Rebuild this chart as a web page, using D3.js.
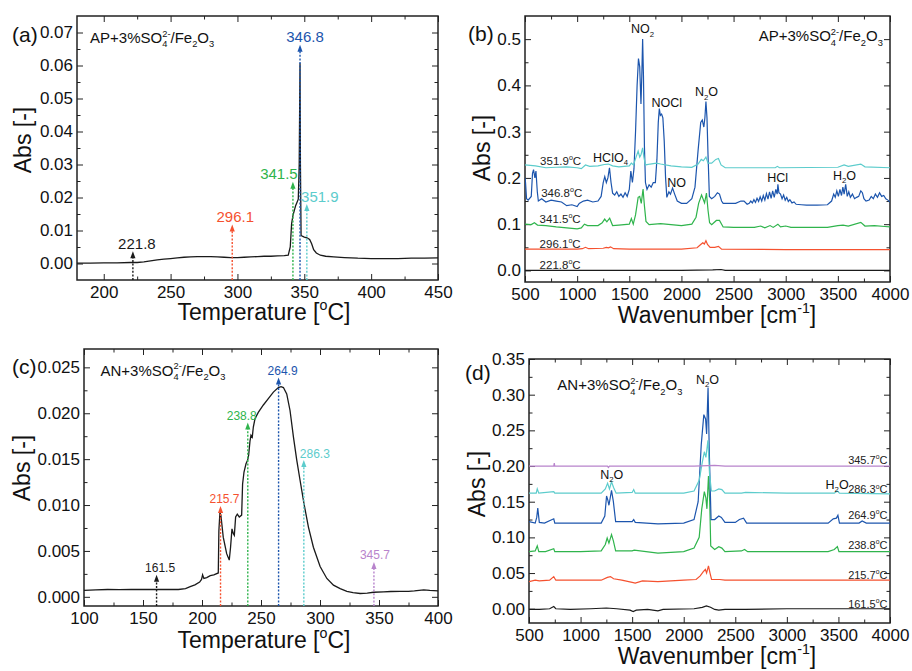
<!DOCTYPE html>
<html>
<head>
<meta charset="utf-8">
<script src="https://cdn.jsdelivr.net/npm/d3@7"></script>
<style>
  body { margin: 0; background: #fff; }
  svg { display: block; }
  text { font-family: Arial, "Liberation Sans", sans-serif; }
</style>
</head>
<body>
<div id="chart"></div>
<script>
// ─── Data ────────────────────────────────────────────────────────────────────

// (a) AP + 3% SO4/Fe2O3 — absorbance vs temperature
const apTemp = [180,190,200,210,220,225,230,235,240,245,250,255,260,265,270,275,280,285,290,295,300,305,310,315,320,325,330,335,338,339.5,340.5,341.5,342.5,343.5,344.5,345.5,346.2,346.8,347.1,347.6,348.5,350,352,354,355.5,357,359,362,366,372,380,390,400,410,420,430,440,450];
const apAbs  = [0.0001,0.0001,0.0002,0.0002,0.0003,0.0003,0.0005,0.0008,0.0011,0.0013,0.0015,0.0017,0.0019,0.002,0.0021,0.0021,0.0021,0.002,0.0019,0.0018,0.0018,0.0019,0.002,0.0021,0.0022,0.0022,0.0023,0.0024,0.0025,0.005,0.012,0.0145,0.016,0.0175,0.0185,0.0195,0.03,0.0607,0.03,0.0085,0.0083,0.008,0.0078,0.0073,0.006,0.0042,0.0032,0.0025,0.0022,0.002,0.0018,0.0016,0.0015,0.0015,0.0015,0.0016,0.0016,0.0017];
const apMarkTemp  = [221.8, 296.1, 341.5, 346.8, 351.9];
const apMarkTip   = [0.0037, 0.0118, 0.0248, 0.0663, 0.018];
const apMarkShift = [4, 3, -14, 5, 13];   // label offset from its line, px

// (c) AN + 3% SO4/Fe2O3
const anTemp = [100,110,120,130,140,150,160,170,180,186,190,194,198,199.6,200.5,201.6,204,207,210,213.8,214.3,215.2,216,218,220.9,223.1,224.2,225.4,226.5,227.4,228.5,229.9,231.6,233.6,234.4,235.6,237.3,238.7,239.5,240.7,241.5,242.6,243.5,244.9,247.7,252,256.2,260.5,264.7,267,269,271.8,274.6,277.5,280.3,283.1,286.5,290.2,294.4,300.1,305.8,311.4,317.1,322.8,328,334,340,345.4,353.9,360,368,375,380,387.9,393,400];
const anAbs  = [0.0007,0.00075,0.0008,0.00078,0.0008,0.0008,0.0008,0.0008,0.0008,0.0009,0.0011,0.0013,0.0016,0.0019,0.0024,0.002,0.0021,0.0023,0.0024,0.0026,0.0072,0.0092,0.0089,0.0065,0.0047,0.004,0.0054,0.0074,0.0069,0.0067,0.0087,0.009,0.0087,0.0089,0.0123,0.0136,0.0145,0.0149,0.0154,0.017,0.0176,0.0174,0.0185,0.0194,0.0201,0.0209,0.0216,0.0223,0.0228,0.0229,0.0228,0.0221,0.0203,0.0174,0.0149,0.0127,0.0101,0.0076,0.0054,0.0033,0.002,0.00127,0.0009,0.0006,0.00045,0.00036,0.0004,0.0005,0.00054,0.00058,0.0006,0.0006,0.00065,0.00076,0.0007,0.00065];
const anMarkTemp  = [161.5, 215.7, 238.8, 264.9, 286.3, 345.7];
const anMarkTip   = [0.0024, 0.0099, 0.019, 0.0239, 0.0149, 0.0038];
const anMarkShift = [3.5, 4, -6, 4, 11, 1];

// (b) AP spectra, [wavenumber, abs]
const apSpec2218 = [[500,0],[1000,0],[1500,0],[2000,0],[2300,0.001],[2380,0.002],[2420,0],[3000,0],[4000,0]];
const apSpec2961 = [[500,0.046],[1000,0.046],[1050,0.047],[1080,0.05],[1110,0.047],[1250,0.048],[1280,0.05],[1300,0.049],[1320,0.051],[1350,0.047],[1500,0.046],[2000,0.046],[2150,0.049],[2185,0.056],[2205,0.06],[2220,0.057],[2235,0.064],[2250,0.056],[2275,0.05],[2320,0.05],[2355,0.052],[2385,0.046],[3000,0.045],[4000,0.045]];
const apSpec3415 = [[500,0.1],[560,0.099],[590,0.103],[620,0.098],[700,0.097],[800,0.094],[900,0.092],[1000,0.09],[1040,0.092],[1070,0.1],[1100,0.097],[1200,0.097],[1240,0.103],[1264,0.111],[1285,0.105],[1312,0.113],[1340,0.097],[1400,0.098],[1500,0.1],[1520,0.112],[1538,0.1],[1560,0.12],[1585,0.158],[1600,0.16],[1615,0.145],[1632,0.176],[1645,0.14],[1660,0.106],[1690,0.099],[1800,0.101],[1900,0.099],[2000,0.097],[2100,0.1],[2140,0.115],[2165,0.145],[2193,0.163],[2222,0.146],[2240,0.167],[2255,0.13],[2270,0.103],[2290,0.099],[2335,0.108],[2365,0.108],[2400,0.094],[2500,0.093],[2700,0.093],[2760,0.096],[2800,0.092],[2850,0.097],[2880,0.093],[2925,0.1],[2950,0.094],[3000,0.096],[3050,0.093],[3400,0.093],[3500,0.097],[3550,0.098],[3600,0.096],[3720,0.104],[3760,0.096],[3850,0.097],[3950,0.095],[4000,0.094]];
const apSpec3468 = [[500,0.2],[505,0.19],[515,0.155],[530,0.152],[560,0.16],[572,0.21],[582,0.218],[595,0.2],[605,0.215],[618,0.17],[628,0.15],[660,0.155],[700,0.148],[750,0.152],[800,0.15],[850,0.148],[900,0.14],[950,0.142],[1000,0.138],[1020,0.145],[1060,0.15],[1100,0.152],[1150,0.148],[1200,0.15],[1230,0.16],[1250,0.19],[1265,0.203],[1280,0.19],[1295,0.2],[1310,0.222],[1325,0.19],[1340,0.167],[1360,0.163],[1380,0.17],[1400,0.16],[1420,0.165],[1440,0.158],[1460,0.168],[1480,0.16],[1500,0.175],[1515,0.215],[1530,0.19],[1545,0.22],[1560,0.3],[1575,0.4],[1588,0.458],[1600,0.44],[1612,0.36],[1620,0.42],[1628,0.5],[1636,0.42],[1645,0.27],[1655,0.19],[1670,0.175],[1690,0.185],[1710,0.18],[1730,0.19],[1750,0.19],[1765,0.24],[1778,0.32],[1788,0.35],[1798,0.335],[1810,0.338],[1822,0.33],[1835,0.28],[1848,0.2],[1860,0.158],[1880,0.17],[1895,0.165],[1915,0.178],[1935,0.165],[1960,0.15],[2000,0.145],[2050,0.145],[2100,0.155],[2130,0.18],[2160,0.26],[2185,0.32],[2200,0.325],[2215,0.31],[2225,0.33],[2235,0.365],[2245,0.33],[2255,0.25],[2268,0.16],[2290,0.155],[2320,0.16],[2345,0.168],[2365,0.165],[2385,0.15],[2400,0.145],[2450,0.145],[2520,0.145],[2570,0.15],[2600,0.15],[2630,0.143],[2650,0.145],[2665,0.15],[2680,0.146],[2695,0.153],[2710,0.147],[2725,0.156],[2740,0.149],[2755,0.159],[2770,0.15],[2785,0.162],[2800,0.152],[2815,0.166],[2830,0.154],[2845,0.17],[2860,0.156],[2875,0.172],[2890,0.158],[2905,0.175],[2918,0.165],[2925,0.186],[2935,0.168],[2950,0.165],[2965,0.155],[2980,0.163],[2995,0.152],[3010,0.158],[3025,0.149],[3040,0.153],[3060,0.146],[3080,0.148],[3100,0.143],[3150,0.142],[3200,0.141],[3300,0.141],[3400,0.142],[3440,0.15],[3460,0.165],[3475,0.158],[3490,0.172],[3505,0.16],[3520,0.175],[3535,0.162],[3548,0.18],[3560,0.165],[3575,0.186],[3590,0.16],[3605,0.17],[3620,0.158],[3640,0.165],[3660,0.155],[3680,0.158],[3700,0.16],[3720,0.172],[3735,0.168],[3750,0.155],[3770,0.15],[3800,0.152],[3820,0.16],[3840,0.155],[3860,0.165],[3880,0.158],[3900,0.168],[3920,0.16],[3940,0.162],[3960,0.155],[3980,0.152],[4000,0.148]];
const apSpec3519 = [[500,0.228],[600,0.226],[700,0.222],[800,0.223],[900,0.224],[1000,0.222],[1040,0.22],[1080,0.228],[1120,0.225],[1200,0.226],[1260,0.229],[1300,0.23],[1340,0.226],[1400,0.224],[1500,0.226],[1520,0.232],[1540,0.228],[1565,0.245],[1585,0.258],[1600,0.245],[1612,0.25],[1628,0.265],[1640,0.245],[1655,0.228],[1700,0.23],[1760,0.232],[1800,0.23],[1900,0.226],[2000,0.224],[2100,0.223],[2160,0.23],[2190,0.24],[2210,0.237],[2235,0.245],[2255,0.232],[2290,0.232],[2330,0.24],[2355,0.242],[2380,0.228],[2420,0.222],[2900,0.222],[2920,0.225],[2940,0.222],[3500,0.223],[3560,0.228],[3600,0.225],[3720,0.23],[3760,0.224],[4000,0.222]];

// (d) AN spectra, [wavenumber, abs]
const anSpec1615 = [[500,-0.001],[600,-0.001],[700,0],[740,0.003],[760,0],[900,-0.001],[1100,0],[1250,0.001],[1350,0],[1480,-0.002],[1510,-0.004],[1540,-0.002],[1650,-0.001],[1750,-0.003],[1800,-0.001],[2100,0],[2180,0.002],[2220,0.004],[2260,0.002],[2300,-0.001],[2340,-0.002],[2400,-0.001],[2600,-0.001],[3000,0],[3500,0],[4000,0]];
const anSpec2157 = [[500,0.038],[560,0.04],[600,0.039],[700,0.04],[740,0.045],[760,0.04],[1000,0.04],[1200,0.04],[1260,0.044],[1290,0.045],[1320,0.042],[1400,0.04],[1500,0.037],[1530,0.036],[1600,0.039],[1750,0.038],[2000,0.04],[2120,0.041],[2160,0.046],[2190,0.052],[2210,0.055],[2222,0.05],[2240,0.06],[2255,0.05],[2270,0.041],[2350,0.041],[2400,0.04],[3000,0.04],[4000,0.04]];
const anSpec2388 = [[500,0.08],[560,0.081],[580,0.088],[595,0.08],[660,0.08],[740,0.084],[750,0.08],[1000,0.08],[1200,0.081],[1240,0.09],[1258,0.099],[1275,0.092],[1300,0.104],[1318,0.095],[1340,0.081],[1500,0.081],[1520,0.082],[1750,0.078],[2000,0.08],[2100,0.085],[2150,0.1],[2175,0.14],[2200,0.164],[2215,0.155],[2225,0.14],[2240,0.186],[2252,0.15],[2262,0.088],[2300,0.083],[2340,0.087],[2370,0.085],[2400,0.08],[2560,0.081],[2590,0.083],[2620,0.08],[3400,0.08],[3460,0.083],[3490,0.087],[3505,0.08],[4000,0.08]];
const anSpec2649 = [[500,0.122],[560,0.12],[575,0.128],[585,0.141],[600,0.121],[650,0.12],[740,0.126],[750,0.12],[1000,0.12],[1200,0.12],[1235,0.13],[1252,0.158],[1265,0.152],[1275,0.145],[1300,0.166],[1318,0.15],[1340,0.122],[1500,0.122],[1515,0.125],[1530,0.121],[1750,0.119],[2000,0.12],[2100,0.125],[2140,0.15],[2170,0.23],[2195,0.272],[2212,0.266],[2222,0.245],[2236,0.31],[2248,0.22],[2265,0.125],[2300,0.125],[2340,0.13],[2365,0.128],[2400,0.121],[2500,0.121],[2540,0.125],[2580,0.127],[2610,0.12],[3400,0.12],[3450,0.126],[3480,0.127],[3495,0.131],[3510,0.12],[3700,0.12],[3730,0.123],[3770,0.12],[4000,0.12]];
const anSpec2863 = [[500,0.162],[570,0.162],[580,0.168],[595,0.162],[740,0.164],[750,0.162],[1000,0.162],[1200,0.162],[1240,0.168],[1262,0.176],[1280,0.168],[1300,0.178],[1320,0.17],[1345,0.162],[1500,0.163],[1515,0.167],[1530,0.162],[1750,0.162],[2000,0.162],[2100,0.165],[2150,0.18],[2180,0.205],[2200,0.22],[2215,0.212],[2235,0.236],[2250,0.19],[2268,0.165],[2300,0.165],[2340,0.168],[2370,0.167],[2400,0.162],[2560,0.162],[2600,0.163],[3000,0.162],[3460,0.162],[3490,0.165],[3510,0.162],[4000,0.161]];
const anSpec3457 = [[500,0.2],[740,0.2],[745,0.204],[750,0.2],[1260,0.2],[1270,0.198],[1280,0.2],[1500,0.2],[2100,0.2],[2300,0.201],[2400,0.2],[4000,0.2]];

// Temperature labels of the spectra: [text, wavenumber, abs]
const apSpecLabels = [["221.8^{o}C",640,0.003],["296.1^{o}C",640,0.048],["341.5^{o}C",640,0.102],["346.8^{o}C",655,0.159],["351.9^{o}C",645,0.228]];
const anSpecLabels = [["161.5^{o}C",3975,0.0015],["215.7^{o}C",3975,0.042],["238.8^{o}C",3975,0.084],["264.9^{o}C",3975,0.126],["286.3^{o}C",3975,0.162],["345.7^{o}C",3975,0.203]];
// Band assignments: [text, wavenumber, abs, anchor]
const apBands = [["NO_{2}",1627,0.513,"middle"],["NOCl",1860,0.354,"middle"],["N_{2}O",2241,0.376,"middle"],["HClO_{4}",1153,0.235,"start"],["NO",1953,0.18,"middle"],["HCl",2923,0.192,"middle"],["H_{2}O",3563,0.196,"middle"]];
const anBands = [["N_{2}O",2230,0.315,"middle"],["N_{2}O",1302,0.182,"middle"],["H_{2}O",3375,0.168,"start"]];

const C = { black: "#1a1a1a", red: "#f5512f", green: "#2fb44c", blue: "#1c55ad", cyan: "#5ccccc", purple: "#b884cc" };

// ─── Helpers ─────────────────────────────────────────────────────────────────

const svg = d3.select("#chart").append("svg").attr("width", 912).attr("height", 671)
  .attr("fill", "#111");

// tiny markup: _{sub} ^{sup}; a sup right after a sub is stacked over it
function rich(text, str, size) {
  const re = /_\{([^}]*)\}|\^\{([^}]*)\}|([^_^]+)/g;
  let m, cur = 0, prev = null;
  while ((m = re.exec(str))) {
    const mode = m[1] != null ? "sub" : m[2] != null ? "sup" : "n";
    const t = m[1] ?? m[2] ?? m[3];
    const off = mode === "sub" ? 0.28 * size : mode === "sup" ? -0.42 * size : 0;
    const ts = text.append("tspan").text(t)
      .attr("font-size", mode === "n" ? size : size * 0.62)
      .attr("dy", off - cur);
    if (mode === "sup" && prev && prev.mode === "sub") ts.attr("dx", -prev.node.getComputedTextLength());
    cur = off;
    prev = { mode, node: ts.node() };
  }
  return text;
}

function panel(cfg) {
  const g = svg.append("g");
  const x = d3.scaleLinear().domain(cfg.x).range([cfg.l, cfg.r]);
  const y = d3.scaleLinear().domain(cfg.y).range([cfg.b, cfg.t]);

  const put = (axis, tr, vals, size, labels) => {
    const a = g.append("g").attr("transform", tr)
      .call(axis.tickValues(vals).tickSize(size).tickSizeOuter(0)
        .tickFormat(labels ? labels : () => ""));
    a.select(".domain").remove();
    a.selectAll(".tick line").attr("stroke", "#222").attr("stroke-width", 1);
    a.selectAll(".tick text").attr("font-size", 17).attr("fill", "#111")
      .attr("font-family", "Arial, 'Liberation Sans', sans-serif");
    return a;
  };
  const fx = d3.format("d"), fy = d3.format(cfg.yf);
  put(d3.axisBottom(x), `translate(0,${cfg.b})`, cfg.xt, -6, fx).selectAll(".tick text").attr("y", 6);
  put(d3.axisBottom(x), `translate(0,${cfg.b})`, cfg.xm, -3.5);
  put(d3.axisTop(x), `translate(0,${cfg.t})`, cfg.xt, -6);
  put(d3.axisTop(x), `translate(0,${cfg.t})`, cfg.xm, -3.5);
  put(d3.axisLeft(y), `translate(${cfg.l},0)`, cfg.yt, -6, fy).selectAll(".tick text").attr("x", -4);
  put(d3.axisLeft(y), `translate(${cfg.l},0)`, cfg.ym, -3.5);
  put(d3.axisRight(y), `translate(${cfg.r},0)`, cfg.yt, -6);
  put(d3.axisRight(y), `translate(${cfg.r},0)`, cfg.ym, -3.5);

  g.append("rect").attr("x", cfg.l).attr("y", cfg.t)
    .attr("width", cfg.r - cfg.l).attr("height", cfg.b - cfg.t)
    .attr("fill", "none").attr("stroke", "#222").attr("stroke-width", 1.5);

  const id = "clip-" + cfg.name;
  svg.append("clipPath").attr("id", id).append("rect")
    .attr("x", cfg.l).attr("y", cfg.t).attr("width", cfg.r - cfg.l).attr("height", cfg.b - cfg.t);
  const plot = g.append("g").attr("clip-path", `url(#${id})`);

  // panel letter, axis titles
  g.append("text").attr("x", cfg.letter[0]).attr("y", cfg.letter[1]).attr("font-size", 21).text(`(${cfg.name})`);
  rich(g.append("text").attr("x", cfg.xtitle[0]).attr("y", cfg.xtitle[1])
    .attr("text-anchor", "middle"), cfg.xlab, 23);
  g.append("text").attr("transform", `translate(${cfg.ytitle[0]},${cfg.ytitle[1]}) rotate(-90)`)
    .attr("text-anchor", "middle").attr("dy", "0.35em").attr("font-size", 23).text("Abs [-]");

  return { g, plot, x, y };
}

const line = (x, y) => d3.line().x(d => x(d[0])).y(d => y(d[1]));

function markers(P, temps, tips, shifts, colors, size) {
  temps.forEach((t, i) => {
    const cx = P.x(t), ty = P.y(tips[i]);
    P.g.append("line").attr("x1", cx).attr("x2", cx).attr("y1", P.y.range()[0]).attr("y2", ty + 5)
      .attr("stroke", colors[i]).attr("stroke-width", 1.4).attr("stroke-dasharray", "2,1.6");
    P.g.append("path").attr("d", `M${cx},${ty}L${cx - 2.6},${ty + 7}L${cx + 2.6},${ty + 7}Z`).attr("fill", colors[i]);
    P.g.append("text").attr("x", cx + shifts[i]).attr("y", ty - 2.5).attr("text-anchor", "middle")
      .attr("font-size", size).attr("fill", colors[i]).text(d3.format(".1f")(t));
  });
}

// ─── (a) ─────────────────────────────────────────────────────────────────────
const A = panel({ name: "a", l: 77, r: 438, t: 16, b: 280, x: [180, 450], y: [-0.005, 0.075],
  xt: d3.range(200, 451, 50), xm: d3.range(225, 450, 50),
  yt: d3.range(0, 0.0705, 0.01), ym: d3.range(0.005, 0.07, 0.01), yf: ".2f",
  letter: [12, 42], xtitle: [264, 320], ytitle: [23, 140], xlab: "Temperature [^{o}C]" });
A.plot.append("path").datum(d3.zip(apTemp, apAbs)).attr("d", line(A.x, A.y))
  .attr("fill", "none").attr("stroke", C.black).attr("stroke-width", 1.3);
markers(A, apMarkTemp, apMarkTip, apMarkShift, [C.black, C.red, C.green, C.blue, C.cyan], 15);
rich(A.g.append("text").attr("x", A.x(189.8)).attr("y", A.y(0.0668)), "AP+3%SO_{4}^{2-}/Fe_{2}O_{3}", 15);

// ─── (b) ─────────────────────────────────────────────────────────────────────
const B = panel({ name: "b", l: 525, r: 890, t: 16, b: 282, x: [500, 4000], y: [-0.025, 0.55],
  xt: d3.range(500, 4001, 500), xm: d3.range(750, 4000, 500),
  yt: d3.range(0, 0.501, 0.1), ym: d3.range(0.05, 0.55, 0.1), yf: ".1f",
  letter: [468, 41], xtitle: [717, 323], ytitle: [482, 148], xlab: "Wavenumber [cm^{-1}]" });
[[apSpec2218, C.black], [apSpec2961, C.red], [apSpec3415, C.green], [apSpec3468, C.blue], [apSpec3519, C.cyan]]
  .forEach(([s, c]) => B.plot.append("path").datum(s).attr("d", line(B.x, B.y))
    .attr("fill", "none").attr("stroke", c).attr("stroke-width", 1.2));
apSpecLabels.forEach(([t, w, v]) => rich(B.g.append("text").attr("x", B.x(w)).attr("y", B.y(v)).attr("fill", "#222"), t, 11.5));
apBands.forEach(([t, w, v, a]) => rich(B.g.append("text").attr("x", B.x(w)).attr("y", B.y(v)).attr("text-anchor", a), t, 12.5));
rich(B.g.append("text").attr("x", B.x(2741)).attr("y", B.y(0.495)), "AP+3%SO_{4}^{2-}/Fe_{2}O_{3}", 15);

// ─── (c) ─────────────────────────────────────────────────────────────────────
const Cp = panel({ name: "c", l: 84, r: 438, t: 349, b: 606, x: [100, 400], y: [-0.001, 0.027],
  xt: d3.range(100, 401, 50), xm: d3.range(125, 400, 50),
  yt: d3.range(0, 0.02501, 0.005), ym: d3.range(0.0025, 0.027, 0.005), yf: ".3f",
  letter: [12, 374], xtitle: [264, 648], ytitle: [22, 468], xlab: "Temperature [^{o}C]" });
Cp.plot.append("path").datum(d3.zip(anTemp, anAbs)).attr("d", line(Cp.x, Cp.y))
  .attr("fill", "none").attr("stroke", C.black).attr("stroke-width", 1.3);
markers(Cp, anMarkTemp, anMarkTip, anMarkShift, [C.black, C.red, C.green, C.blue, C.cyan, C.purple], 12);
rich(Cp.g.append("text").attr("x", Cp.x(114)).attr("y", Cp.y(0.0241)), "AN+3%SO_{4}^{2-}/Fe_{2}O_{3}", 15);

// ─── (d) ─────────────────────────────────────────────────────────────────────
const D = panel({ name: "d", l: 529, r: 890, t: 359, b: 623, x: [500, 4000], y: [-0.02, 0.35],
  xt: d3.range(500, 4001, 500), xm: d3.range(750, 4000, 500),
  yt: d3.range(0, 0.3505, 0.05), ym: d3.range(0.025, 0.35, 0.05), yf: ".2f",
  letter: [465, 380], xtitle: [717, 664], ytitle: [477, 484], xlab: "Wavenumber [cm^{-1}]" });
[[anSpec1615, C.black], [anSpec2157, C.red], [anSpec2388, C.green], [anSpec2649, C.blue], [anSpec2863, C.cyan], [anSpec3457, C.purple]]
  .forEach(([s, c]) => D.plot.append("path").datum(s).attr("d", line(D.x, D.y))
    .attr("fill", "none").attr("stroke", c).attr("stroke-width", 1.2));
anSpecLabels.forEach(([t, w, v]) => rich(D.g.append("text").attr("x", D.x(w)).attr("y", D.y(v))
  .attr("text-anchor", "end").attr("fill", "#222"), t, 11));
anBands.forEach(([t, w, v, a]) => rich(D.g.append("text").attr("x", D.x(w)).attr("y", D.y(v)).attr("text-anchor", a), t, 12.5));
rich(D.g.append("text").attr("x", D.x(775)).attr("y", D.y(0.306)), "AN+3%SO_{4}^{2-}/Fe_{2}O_{3}", 15);
</script>
</body>
</html>
